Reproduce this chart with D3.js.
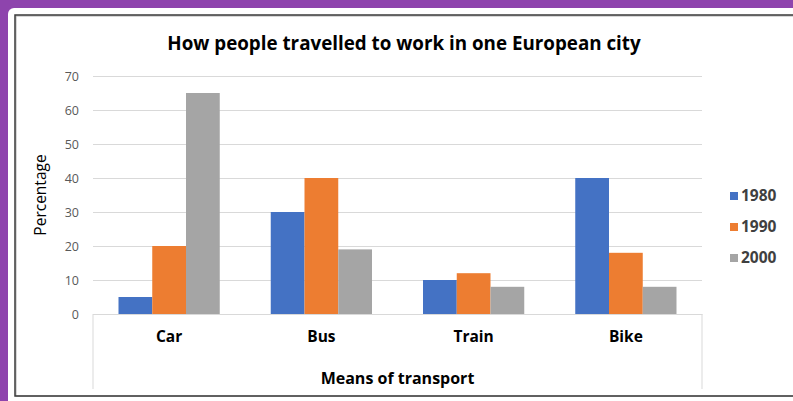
<!DOCTYPE html>
<html>
<head>
<meta charset="utf-8">
<script src="https://cdn.jsdelivr.net/npm/d3@7/dist/d3.min.js"></script>
<style>
  html, body { margin: 0; padding: 0; background: #8e44ad; }
  svg { display: block; }
</style>
</head>
<body>
<svg id="chart" width="793" height="401"></svg>
<script>
// Share of commuters by means of transport, per year
const categories = ["Car", "Bus", "Train", "Bike"];
const years = ["1980", "1990", "2000"];
const values1980 = [5, 30, 10, 40];
const values1990 = [20, 40, 12, 18];
const values2000 = [65, 19, 8, 8];
const yTicks = [0, 10, 20, 30, 40, 50, 60, 70];
const colors = ["#4472c4", "#ed7d31", "#a5a5a5"];

const seriesValues = [values1980, values1990, values2000];
const font = "'Open Sans', sans-serif";

const svg = d3.select("#chart");
const W = 793, H = 401;

// page background and card
svg.append("rect").attr("width", W).attr("height", H).attr("fill", "#8e44ad");
svg.append("rect").attr("x", 8).attr("y", 8).attr("width", W).attr("height", H)
  .attr("rx", 6).attr("fill", "#ffffff");
// chart frame
svg.append("rect").attr("x", 16).attr("y", 16).attr("width", W).attr("height", 380)
  .attr("fill", "none").attr("stroke", "#b0b0b0").attr("stroke-width", 1);
svg.append("rect").attr("x", 15).attr("y", 15).attr("width", W).attr("height", 381)
  .attr("fill", "none").attr("stroke", "#3a3a3a").attr("stroke-width", 1.5);

const plot = { left: 93, right: 702, top: 76, bottom: 314 };

const x0 = d3.scaleBand().domain(categories)
  .range([plot.left, plot.right]).paddingInner(0.335).paddingOuter(0.1675);
const x1 = d3.scaleBand().domain(years).range([0, x0.bandwidth()]).padding(0);
const y = d3.scaleLinear().domain([0, 70]).range([plot.bottom, plot.top]);

// gridlines
const grid = svg.append("g")
  .attr("transform", `translate(${plot.left},0)`)
  .call(d3.axisLeft(y).tickValues(yTicks).tickSize(-(plot.right - plot.left)).tickFormat(""));
grid.select(".domain").remove();
grid.selectAll("line").attr("stroke", "#d9d9d9").attr("stroke-width", 1);

// y tick labels
const yAxis = svg.append("g")
  .attr("transform", `translate(${plot.left},0)`)
  .call(d3.axisLeft(y).tickValues(yTicks).tickSize(0).tickPadding(14));
yAxis.select(".domain").remove();
yAxis.selectAll("text").attr("font-family", font).attr("font-size", 12.5)
  .attr("fill", "#595959");

// bars
const groups = svg.append("g").selectAll("g")
  .data(categories)
  .join("g")
  .attr("transform", d => `translate(${x0(d)},0)`);

groups.selectAll("rect")
  .data((c, i) => years.map((yr, s) => ({ yr, s, v: seriesValues[s][i] })))
  .join("rect")
  .attr("x", d => x1(d.yr))
  .attr("width", x1.bandwidth())
  .attr("y", d => y(d.v))
  .attr("height", d => y(0) - y(d.v))
  .attr("fill", d => colors[d.s]);

// category axis with side rules
const xAxis = svg.append("g")
  .attr("transform", `translate(0,${plot.bottom})`)
  .call(d3.axisBottom(x0).tickSize(0).tickPadding(17));
xAxis.select(".domain").attr("stroke", "#d9d9d9");
xAxis.selectAll("text").attr("font-family", font).attr("font-size", 15.5)
  .attr("font-weight", "bold").attr("fill", "#000");
[plot.left, plot.right].forEach(px => {
  svg.append("line").attr("x1", px).attr("x2", px)
    .attr("y1", plot.bottom).attr("y2", 389)
    .attr("stroke", "#d9d9d9").attr("stroke-width", 1);
});

// titles
svg.append("text").attr("x", 404).attr("y", 50).attr("text-anchor", "middle")
  .attr("font-family", font).attr("font-size", 18.8).attr("font-weight", "bold")
  .attr("fill", "#000").text("How people travelled to work in one European city");

svg.append("text").attr("x", (plot.left + plot.right) / 2).attr("y", 384)
  .attr("text-anchor", "middle").attr("font-family", font).attr("font-size", 16)
  .attr("font-weight", "bold").attr("fill", "#000").text("Means of transport");

svg.append("text")
  .attr("transform", "translate(46,195) rotate(-90)")
  .attr("text-anchor", "middle").attr("font-family", font).attr("font-size", 15.5)
  .attr("fill", "#000").text("Percentage");

// legend
const legend = svg.append("g").selectAll("g")
  .data(years)
  .join("g")
  .attr("transform", (d, i) => `translate(730,${196 + i * 31})`);
legend.append("rect").attr("x", 0).attr("y", -4).attr("width", 8).attr("height", 8)
  .attr("fill", (d, i) => colors[i]);
legend.append("text").attr("x", 11).attr("y", 0).attr("dy", "0.35em")
  .attr("font-family", font).attr("font-size", 15.5).attr("font-weight", "bold")
  .attr("fill", "#404040").text(d => d);
</script>
</body>
</html>
